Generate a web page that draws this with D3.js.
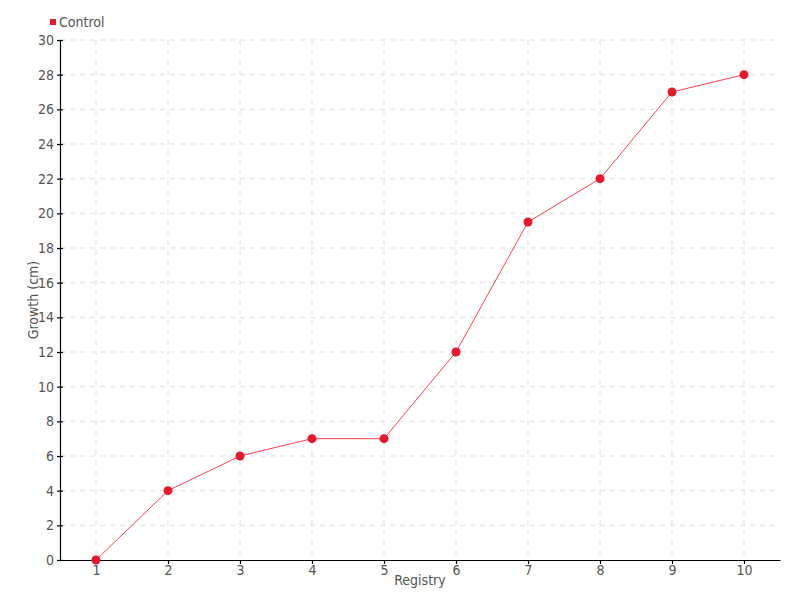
<!DOCTYPE html>
<html><head><meta charset="utf-8">
<script src="https://cdn.jsdelivr.net/npm/d3@7"></script>
<style>
body{margin:0;background:#fff;}
text{font-family:"DejaVu Sans Condensed","DejaVu Sans",sans-serif;font-stretch:condensed;fill:#555;}
</style></head><body>
<svg id="c" width="800" height="600"></svg>
<script>
const categories = [1,2,3,4,5,6,7,8,9,10];
const control = [0,4,6,7,7,12,19.5,22,27,28];
const yTicks = d3.range(0,31,2);
const seriesName = "Control";

const svg = d3.select("#c");
const m = {l:60, r:20, t:40, b:40};
const W = 800, H = 600;
const x = d3.scaleLinear().domain([0.5,10.5]).range([m.l, W-m.r]);
const y = d3.scaleLinear().domain([0,30]).range([H-m.b, m.t]);

const g = svg.append("g");
g.selectAll("line.hg").data(yTicks.filter(d=>d>0)).enter().append("line")
 .attr("x1",m.l).attr("x2",W-m.r).attr("y1",d=>y(d)).attr("y2",d=>y(d))
 .attr("stroke","#e0e0e0").attr("stroke-dasharray","5,5");
g.selectAll("line.vg").data(categories).enter().append("line")
 .attr("y1",m.t).attr("y2",H-m.b).attr("x1",d=>x(d)).attr("x2",d=>x(d))
 .attr("stroke","#e0e0e0").attr("stroke-dasharray","5,5");

const xa = svg.append("g").attr("transform",`translate(0,${H-m.b})`)
 .call(d3.axisBottom(x).tickValues(categories).tickSize(4).tickPadding(1).tickSizeOuter(0));
const ya = svg.append("g").attr("transform",`translate(${m.l},0)`)
 .call(d3.axisLeft(y).tickValues(yTicks).tickSize(3).tickPadding(3).tickSizeOuter(0));
ya.selectAll(".tick line").attr("x2",3).attr("x1",-3);
[xa,ya].forEach(a=>{
  a.selectAll("path,line").attr("stroke","#000").attr("stroke-width",1.2);
  a.selectAll("text").style("font-size","14px").attr("fill","#555");
});

svg.append("text").attr("x",(m.l+W-m.r)/2).attr("y",585).attr("text-anchor","middle")
 .style("font-size","14px").text("Registry");
svg.append("text").attr("transform",`translate(38,${(m.t+H-m.b)/2}) rotate(-90)`)
 .attr("text-anchor","middle").style("font-size","14px").text("Growth (cm)");

const line = d3.line().x((d,i)=>x(categories[i])).y(d=>y(d));
svg.append("path").datum(control).attr("d",line).attr("fill","none")
 .attr("stroke","#ff4050").attr("stroke-width",1);
svg.selectAll("circle").data(control).enter().append("circle")
 .attr("cx",(d,i)=>x(categories[i])).attr("cy",d=>y(d)).attr("r",4.5)
 .attr("fill","#e8192c");

svg.append("rect").attr("x",50).attr("y",19).attr("width",6).attr("height",6).attr("fill","#e8192c");
svg.append("text").attr("x",59).attr("y",27).style("font-size","14px").text(seriesName);
</script></body></html>
